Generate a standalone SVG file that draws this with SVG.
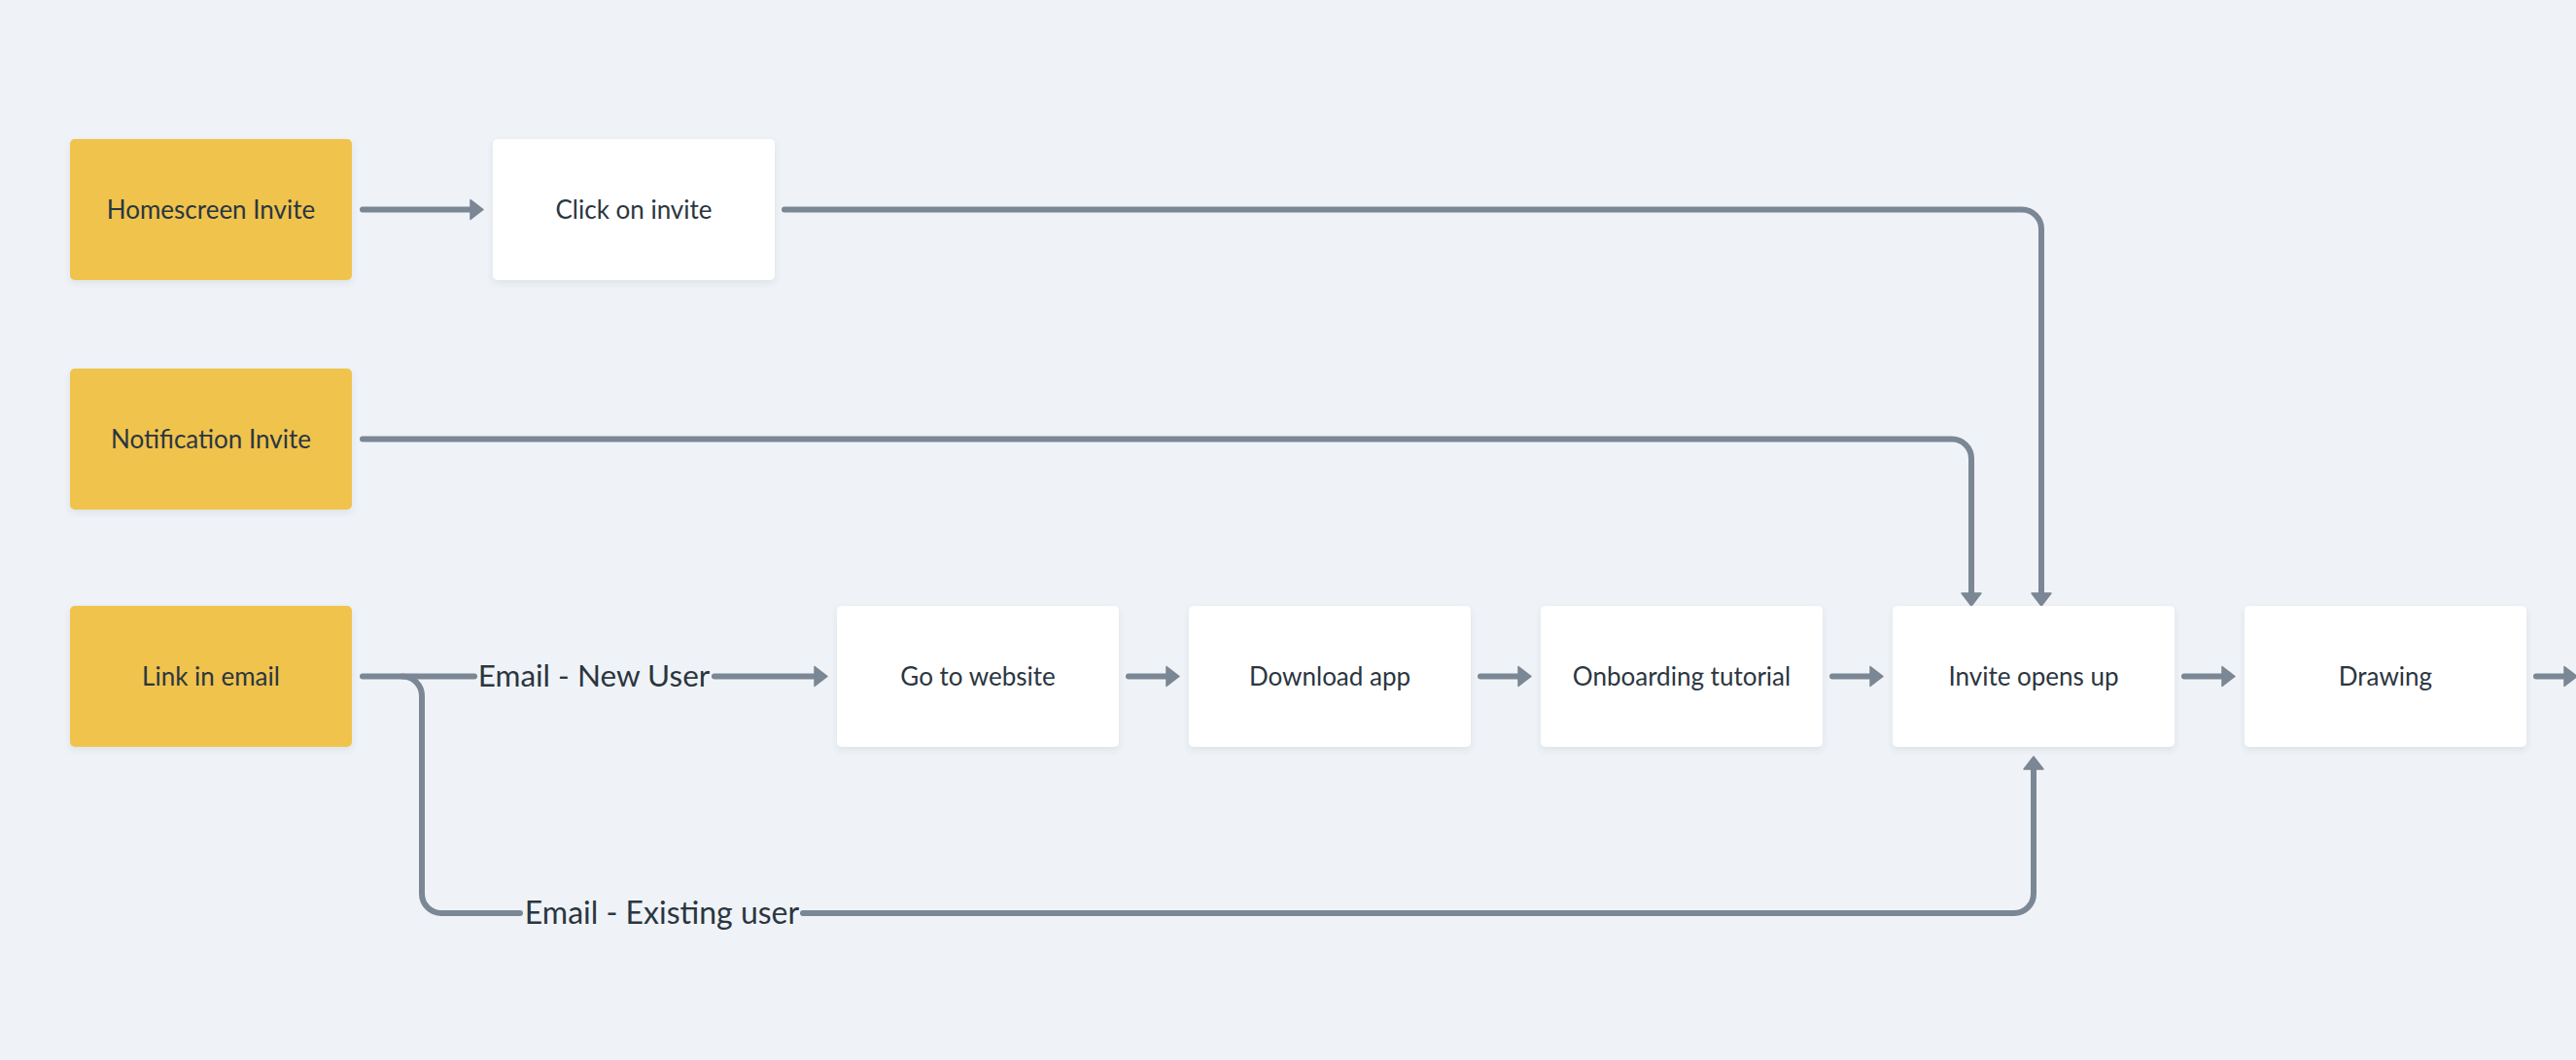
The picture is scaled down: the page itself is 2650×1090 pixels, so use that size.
<svg xmlns="http://www.w3.org/2000/svg" width="2650" height="1090" viewBox="0 0 2650 1090">
<defs>
<style>
.bg{fill:#eff3f7}
.box{filter:url(#sh)}
.src{fill:#f0c34d}
.step{fill:#ffffff}
.lbl{font-family:Lato,"Liberation Sans",sans-serif;font-size:26px;fill:#2b3640;text-anchor:middle}
.elbl{font-family:Lato,"Liberation Sans",sans-serif;fill:#2b3640;text-anchor:middle}
.ln{fill:none;stroke:#7b8794;stroke-width:6;stroke-linecap:round;stroke-linejoin:round}
.arr{marker-end:url(#ah)}
</style>
<filter id="sh" x="-10%" y="-10%" width="120%" height="130%">
<feDropShadow dx="0" dy="3" stdDeviation="3" flood-color="#3a4a5a" flood-opacity="0.10"/>
</filter>
<marker id="ah" markerUnits="userSpaceOnUse" markerWidth="16" markerHeight="24" viewBox="-1 -12 16 24" refX="5" refY="0" orient="auto">
<path d="M0,-10 L13,0 L0,10 Z" fill="#7b8794" stroke="#7b8794" stroke-width="1.5" stroke-linejoin="round"/>
</marker>
</defs>
<rect class="bg" x="0" y="0" width="2650" height="1090"/>

<g id="connectors">
<path class="ln arr" d="M373,215.5 H489"/>
<path class="ln arr" d="M807,215.5 H2080 A20,20 0 0 1 2100,235.5 V615"/>
<path class="ln arr" d="M373,451.5 H2008 A20,20 0 0 1 2028,471.5 V615"/>
<path class="ln" d="M373,695.5 H488"/>
<path class="ln arr" d="M735,695.5 H843"/>
<text class="elbl" x="611" y="706" font-size="31.5">Email - New User</text>
<path class="ln" d="M414,695.5 A20,20 0 0 1 434,715.5 V919 A20,20 0 0 0 454,939 H535"/>
<path class="ln arr" d="M826,939 H2072 A20,20 0 0 0 2092,919 V786"/>
<text class="elbl" x="681" y="950" font-size="32">Email - Existing user</text>
<path class="ln arr" d="M1161,695.5 H1205"/>
<path class="ln arr" d="M1523,695.5 H1567"/>
<path class="ln arr" d="M1885,695.5 H1929"/>
<path class="ln arr" d="M2247,695.5 H2291"/>
<path class="ln arr" d="M2609,695.5 H2643"/>
</g>

<g id="homescreen-invite"><rect class="box src" x="72" y="143" width="290" height="145" rx="5"/><text class="lbl" x="217" y="225">Homescreen Invite</text></g>
<g id="click-on-invite"><rect class="box step" x="507" y="143" width="290" height="145" rx="5"/><text class="lbl" x="652" y="225">Click on invite</text></g>
<g id="notification-invite"><rect class="box src" x="72" y="379" width="290" height="145" rx="5"/><text class="lbl" x="217" y="461">Notification Invite</text></g>
<g id="link-in-email"><rect class="box src" x="72" y="623" width="290" height="145" rx="5"/><text class="lbl" x="217" y="705">Link in email</text></g>
<g id="go-to-website"><rect class="box step" x="861" y="623" width="290" height="145" rx="5"/><text class="lbl" x="1006" y="705">Go to website</text></g>
<g id="download-app"><rect class="box step" x="1223" y="623" width="290" height="145" rx="5"/><text class="lbl" x="1368" y="705">Download app</text></g>
<g id="onboarding-tutorial"><rect class="box step" x="1585" y="623" width="290" height="145" rx="5"/><text class="lbl" x="1730" y="705">Onboarding tutorial</text></g>
<g id="invite-opens-up"><rect class="box step" x="1947" y="623" width="290" height="145" rx="5"/><text class="lbl" x="2092" y="705">Invite opens up</text></g>
<g id="drawing"><rect class="box step" x="2309" y="623" width="290" height="145" rx="5"/><text class="lbl" x="2454" y="705">Drawing</text></g>
</svg>
